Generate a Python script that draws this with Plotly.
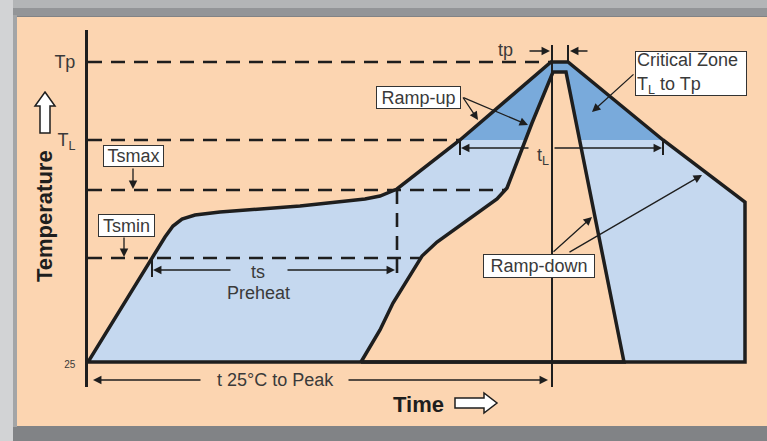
import plotly.graph_objects as go

# ---------------- figure geometry ----------------
W, H = 767, 441
ML, MT, MB, MR = 88, 30, 54, 0

# ---------------- schematic data (arbitrary time / temperature units) ----------------
T_25, TS_MIN, TS_MAX, T_LIQ, T_PEAK = 0, 104, 172, 222, 300
tick_vals = [T_25, T_LIQ, T_PEAK]
tick_text = ['<span style="font-size:10px">25</span>', "T<sub>L</sub>", "Tp"]

# main reflow profile (outer envelope)
profile_time = [0, 64, 77, 85, 94, 107, 132, 212, 277, 292, 302, 309, 372, 463, 480, 575, 657, 657, 0]
profile_temp = [0, 104, 125, 136, 143, 147, 150, 156, 163, 166, 170, 173, 222, 300, 300, 222, 160, 0, 0]

# inner (fast) profile
inner_time = [273, 292, 305, 322, 334, 349, 379, 409, 419, 444, 465, 478, 536, 273]
inner_temp = [0, 32, 59, 87, 106, 120, 142, 163, 174, 239, 290, 290, 0, 0]

# critical zone (T_L to Tp)
crit_time = [372, 463, 480, 575, 372]
crit_temp = [T_LIQ, T_PEAK, T_PEAK, T_LIQ, T_LIQ]

# key times
t_ts_start, t_ts_end = 64, 309
t_liq_up, t_liq_down = 372, 575
t_peak_start, t_peak_end = 464, 480
t_tsmax_end, t_tsmin_end = 445, 367

PEACH = "#fcd5b1"
LBLUE = "#c5d8ef"
DBLUE = "#79aadb"
INK = "#1e1e1e"
TXT = "#3a3a3a"
FONT = "Liberation Sans"

fig = go.Figure()

# fills
fig.add_trace(go.Scatter(x=profile_time, y=profile_temp, fill="toself", fillcolor=LBLUE,
                         mode="lines", line=dict(width=0, color=LBLUE), hoverinfo="skip"))
fig.add_trace(go.Scatter(x=crit_time, y=crit_temp, fill="toself", fillcolor=DBLUE,
                         mode="lines", line=dict(width=0, color=DBLUE), hoverinfo="skip"))

# dashed reference levels
def dline(x, y, w=2.6):
    fig.add_trace(go.Scatter(x=x, y=y, mode="lines", hoverinfo="skip",
                             line=dict(color=INK, width=w, dash="14px,9px")))

dline([0, t_peak_start - 1], [T_PEAK, T_PEAK])
dline([0, t_liq_up], [T_LIQ, T_LIQ])
dline([0, t_tsmax_end], [TS_MAX, TS_MAX])
dline([0, t_tsmin_end], [TS_MIN, TS_MIN])
dline([t_ts_end, t_ts_end], [TS_MAX, 85])

# inner profile fill (peach) with outline
fig.add_trace(go.Scatter(x=inner_time, y=inner_temp, fill="toself", fillcolor=PEACH,
                         mode="lines", line=dict(width=3.5, color=INK), hoverinfo="skip"))
# outer profile outline
fig.add_trace(go.Scatter(x=profile_time, y=profile_temp, mode="lines",
                         line=dict(width=3.5, color=INK), hoverinfo="skip"))

# thin solid lines / ticks
def sline(x, y, w=2):
    fig.add_trace(go.Scatter(x=x, y=y, mode="lines", hoverinfo="skip",
                             line=dict(color=INK, width=w)))

sline([t_peak_start, t_peak_start], [317, -25])
sline([t_peak_end, t_peak_end], [317, T_PEAK])
sline([t_liq_up, t_liq_up], [T_LIQ, 207])
sline([t_liq_down, t_liq_down], [T_LIQ, 207])
sline([t_ts_start, t_ts_start], [TS_MIN, 85])

# ---------------- pixel helpers for decoration ----------------
def px(x):
    return (x - ML) / (W - ML - MR)

def py(y):
    return (H - MB - y) / (H - MT - MB)

# ---------------- annotations ----------------
ann = []

def arrow(x0, y0, x1, y1):
    ann.append(dict(x=x1, y=y1, ax=x0, ay=y0, xref="x", yref="y", axref="x", ayref="y",
                    text="", showarrow=True, arrowhead=2, arrowsize=1.3,
                    arrowwidth=1.3, arrowcolor=INK))

def label(x, y, text, size=18, box=None, align="center", color=TXT):
    d = dict(x=x, y=y, xref="x", yref="y", text=text, showarrow=False,
             xanchor="center", yanchor="middle",
             font=dict(family=FONT, size=size, color=color), align=align)
    if box:
        d.update(bgcolor="white", bordercolor="#333", borderwidth=1, borderpad=1,
                 width=box[0], height=box[1])
    ann.append(d)

# tp
arrow(440, 311, 462, 311)
arrow(501, 311, 482, 311)
label(417, 312, "tp")
# tL
arrow(442, 214, 373, 214)
arrow(465, 214, 574, 214)
label(455, 206, "t<sub>L</sub>")
# ts preheat
arrow(144, 92, 65, 92)
arrow(198, 92, 307, 92)
label(170, 90, "ts")
label(170, 69, "Preheat")
# t 25C to peak
arrow(114, -18, 5, -18)
arrow(259, -18, 460, -18)
label(187, -18, "t 25°C to Peak")
# boxes
label(45, 206, "Tsmax", box=(57, 18))
arrow(45, 195, 45, 173)
label(38, 137, "Tsmin", box=(53, 19))
arrow(36, 126, 36, 105)
label(330, 265, "Ramp-up", box=(81, 19))
arrow(374, 266, 390, 242)
arrow(374, 265, 440, 237)
label(603, 289, "Critical Zone<br>T<sub>L</sub> to Tp", box=(108, 41), align="left")
arrow(547, 289, 504, 250)
label(451, 96, "Ramp-down", box=(108, 20))
arrow(464, 109, 504, 145)
arrow(480, 109, 614, 187)
# axis titles
ann.append(dict(x=330, y=py(404), xref="x", yref="paper", text="<b>Time</b>",
                xanchor="center", yanchor="middle",
                showarrow=False, font=dict(family=FONT, size=22, color=INK)))
ann.append(dict(x=px(44), y=146, xref="paper", yref="y",
                xanchor="center", yanchor="middle",
                text="<b>Temperature</b>", textangle=-90, showarrow=False,
                font=dict(family=FONT, size=22, color=INK)))

# ---------------- decorative frame ----------------
def rect(x0, y0, x1, y1, color):
    return dict(type="rect", xref="paper", yref="paper", x0=px(x0), x1=px(x1),
                y0=py(y1), y1=py(y0), fillcolor=color, line=dict(width=0), layer="below")

def poly(points, fill):
    p = "M " + " L ".join(f"{px(a):.5f},{py(b):.5f}" for a, b in points) + " Z"
    return dict(type="path", xref="paper", yref="paper", path=p, fillcolor=fill,
                line=dict(color=INK, width=1.5), layer="above")

shapes = [
    rect(0, 0, 767, 8, "#b3b5b7"),
    rect(0, 8, 767, 16, "#939598"),
    rect(0, 0, 13, 441, "#d2d3d5"),
    rect(13, 15, 17, 427, "#a3a5a7"),
    rect(17, 17, 767, 426, PEACH),
    poly([(455, 398), (484, 398), (484, 393), (497, 403), (484, 413), (484, 408), (455, 408)], "white"),
    poly([(45, 92), (55, 106), (50, 106), (50, 133), (40, 133), (40, 106), (35, 106)], "white"),
]

fig.update_layout(
    width=W, height=H, margin=dict(l=ML, r=MR, t=MT, b=MB),
    paper_bgcolor="#818386", plot_bgcolor="rgba(0,0,0,0)",
    showlegend=False, annotations=ann, shapes=shapes,
    xaxis=dict(range=[0, W - ML - MR], showgrid=False, zeroline=False, showline=False,
               showticklabels=False, ticks="", fixedrange=True),
    yaxis=dict(range=[-25, H - MB - MT - 25], showgrid=False, zeroline=False, showline=True,
               linecolor=INK, linewidth=3, ticks="", tickvals=tick_vals, ticktext=tick_text,
               tickfont=dict(family=FONT, size=18, color=TXT), ticklabelstandoff=6,
               fixedrange=True),
)

fig.write_html("out.html", config={"displayModeBar": False},
               post_script="document.body.style.margin='0';document.body.style.overflow='hidden';")
